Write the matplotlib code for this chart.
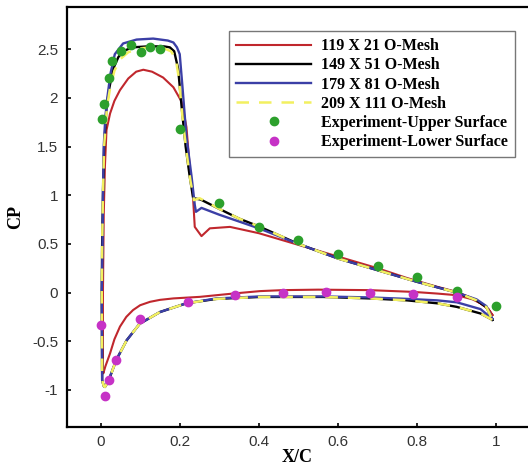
import matplotlib
matplotlib.use("Agg")
import matplotlib.pyplot as plt
import numpy as np

# 119 X 21 O-Mesh
red_up_x = [0.006, 0.006, 0.008, 0.011, 0.015, 0.024, 0.035, 0.049, 0.07, 0.09, 0.108, 0.13, 0.158, 0.184,
            0.205, 0.217, 0.226, 0.233, 0.238, 0.255, 0.276, 0.327, 0.40, 0.50, 0.60, 0.70, 0.774, 0.85,
            0.90, 0.94, 0.96, 0.98, 0.99]
red_up_y = [-0.80, 0.0, 0.8, 1.3, 1.67, 1.84, 1.97, 2.08, 2.20, 2.27, 2.29, 2.27, 2.21, 2.11,
            1.96, 1.70, 1.26, 1.02, 0.675, 0.58, 0.66, 0.675, 0.61, 0.49, 0.37, 0.25, 0.15, 0.06,
            0.007, -0.06, -0.11, -0.17, -0.23]
red_lo_x = [0.006, 0.007, 0.012, 0.024, 0.035, 0.049, 0.065, 0.082, 0.10, 0.125, 0.15, 0.184, 0.251,
            0.335, 0.403, 0.46, 0.55, 0.68, 0.79, 0.85, 0.90, 0.94, 0.96, 0.98, 0.99]
red_lo_y = [-0.80, -0.83, -0.76, -0.625, -0.48, -0.35, -0.25, -0.18, -0.13, -0.095, -0.075, -0.06, -0.044,
            -0.01, 0.015, 0.025, 0.03, 0.025, 0.007, -0.01, -0.027, -0.07, -0.11, -0.17, -0.23]

# 149 X 51 O-Mesh
blk_up_x = [0.004, 0.003, 0.004, 0.006, 0.009, 0.015, 0.022, 0.032, 0.045, 0.057, 0.08, 0.12, 0.16, 0.175,
            0.186, 0.196, 0.205, 0.215, 0.225, 0.234, 0.253, 0.30, 0.35, 0.40, 0.50, 0.60, 0.70, 0.80,
            0.90, 0.95, 0.975, 0.99]
blk_up_y = [-0.90, 0.0, 0.5, 1.0, 1.5, 1.9, 2.1, 2.3, 2.42, 2.48, 2.52, 2.53, 2.53, 2.52,
            2.48, 2.30, 1.90, 1.50, 1.20, 0.97, 0.956, 0.86, 0.76, 0.68, 0.50, 0.35, 0.23, 0.11,
            0.0, -0.08, -0.15, -0.28]
blk_lo_x = [0.004, 0.008, 0.011, 0.017, 0.024, 0.04, 0.066, 0.099, 0.15, 0.217, 0.293, 0.403, 0.563,
            0.68, 0.774, 0.85, 0.90, 0.96, 0.99]
blk_lo_y = [-0.90, -0.96, -0.97, -0.93, -0.865, -0.69, -0.49, -0.32, -0.20, -0.11, -0.065, -0.045, -0.045,
            -0.06, -0.08, -0.11, -0.147, -0.215, -0.28]

# 179 X 81 O-Mesh
blu_up_x = [0.004, 0.003, 0.005, 0.006, 0.008, 0.012, 0.017, 0.025, 0.036, 0.057, 0.091, 0.133, 0.17,
            0.184, 0.193, 0.20, 0.207, 0.217, 0.23, 0.238, 0.241, 0.255, 0.30, 0.35, 0.40, 0.453, 0.50,
            0.60, 0.70, 0.80, 0.90, 0.95, 0.975, 0.99]
blu_up_y = [-0.90, 0.0, 0.5, 1.0, 1.5, 1.8, 2.0, 2.25, 2.45, 2.56, 2.60, 2.61, 2.59,
            2.57, 2.52, 2.45, 2.11, 1.60, 1.19, 0.90, 0.83, 0.87, 0.80, 0.73, 0.66, 0.575, 0.50,
            0.35, 0.23, 0.11, 0.0, -0.07, -0.14, -0.27]
blu_lo_x = [0.004, 0.008, 0.011, 0.017, 0.024, 0.04, 0.066, 0.099, 0.15, 0.217, 0.293, 0.403, 0.563,
            0.68, 0.774, 0.85, 0.90, 0.96, 0.99]
blu_lo_y = [-0.90, -0.96, -0.97, -0.93, -0.86, -0.69, -0.49, -0.32, -0.20, -0.11, -0.06, -0.04, -0.04,
            -0.05, -0.065, -0.08, -0.10, -0.17, -0.27]

# 209 X 111 O-Mesh
yel_up_x = [0.004, 0.003, 0.004, 0.006, 0.009, 0.016, 0.024, 0.035, 0.05, 0.07, 0.10, 0.13, 0.16, 0.178,
            0.19, 0.198, 0.207, 0.217, 0.227, 0.236, 0.25, 0.30, 0.35, 0.40, 0.50, 0.60, 0.70, 0.80,
            0.90, 0.95, 0.975, 0.99]
yel_up_y = [-0.90, 0.0, 0.5, 1.0, 1.5, 1.9, 2.1, 2.28, 2.40, 2.47, 2.51, 2.52, 2.51, 2.48,
            2.40, 2.20, 1.80, 1.45, 1.15, 0.95, 0.97, 0.86, 0.76, 0.68, 0.50, 0.35, 0.23, 0.11,
            0.0, -0.08, -0.15, -0.28]
yel_lo_x = blk_lo_x
yel_lo_y = blk_lo_y

# experiment
exp_up_x = [0.004, 0.009, 0.022, 0.030, 0.051, 0.076, 0.101, 0.125, 0.150, 0.20, 0.30, 0.40, 0.50,
            0.60, 0.70, 0.80, 0.90, 0.999]
exp_up_y = [1.78, 1.94, 2.21, 2.38, 2.48, 2.54, 2.47, 2.52, 2.50, 1.68, 0.92, 0.67, 0.54,
            0.40, 0.27, 0.155, 0.014, -0.14]
exp_lo_x = [0.0, 0.011, 0.021, 0.040, 0.10, 0.22, 0.34, 0.46, 0.57, 0.68, 0.79, 0.90]
exp_lo_y = [-0.335, -1.06, -0.90, -0.69, -0.27, -0.10, -0.02, 0.0, 0.01, 0.0, -0.01, -0.05]


def loop(ux, uy, lx, ly):
    # trailing edge -> leading edge along the lower side, then back along the upper side
    return list(lx[::-1]) + list(ux), list(ly[::-1]) + list(uy)


fig = plt.figure(figsize=(5.28, 4.66), dpi=100)
ax = fig.add_axes([0.126, 0.084, 0.874, 0.9])

x, y = loop(red_up_x, red_up_y, red_lo_x, red_lo_y)
ax.plot(x, y, color='#c0272d', lw=1.5, label='119 X 21 O-Mesh')
x, y = loop(blk_up_x, blk_up_y, blk_lo_x, blk_lo_y)
ax.plot(x, y, color='black', lw=1.7, label='149 X 51 O-Mesh')
x, y = loop(blu_up_x, blu_up_y, blu_lo_x, blu_lo_y)
ax.plot(x, y, color='#3b3fa6', lw=1.7, label='179 X 81 O-Mesh')
x, y = loop(yel_up_x, yel_up_y, yel_lo_x, yel_lo_y)
ax.plot(x, y, color='#f2f060', lw=1.8, ls=(0, (5, 4)), label='209 X 111 O-Mesh')

ax.plot(exp_up_x, exp_up_y, 'o', color='#2ca02c', ms=6, label='Experiment-Upper Surface')
ax.plot(exp_lo_x, exp_lo_y, 'o', color='#c632c6', ms=6, label='Experiment-Lower Surface')

ax.set_xlim(-0.086, 1.08)
ax.set_ylim(-1.38, 2.93)
ax.set_xticks(np.arange(0, 1.01, 0.2))
ax.set_xticklabels(['0', '0.2', '0.4', '0.6', '0.8', '1'])
ax.set_yticks(np.arange(-1, 2.51, 0.5))
ax.set_yticklabels(['-1', '-0.5', '0', '0.5', '1', '1.5', '2', '2.5'])
ax.tick_params(direction='in', length=3, width=1.2, labelsize=11, pad=6)
for lbl in ax.get_xticklabels() + ax.get_yticklabels():
    lbl.set_family('Liberation Sans')
    lbl.set_color('#333333')
for s in ['left', 'bottom', 'top']:
    ax.spines[s].set_linewidth(1.6)
ax.spines['right'].set_visible(False)

ax.set_xlabel('X/C', family='Liberation Serif', weight='bold', fontsize=13, labelpad=0)
ax.set_ylabel('CP', family='Liberation Serif', weight='bold', fontsize=13, labelpad=6)

leg = ax.legend(loc='upper right', bbox_to_anchor=(0.972, 0.944), borderaxespad=0, fancybox=False,
                framealpha=1, edgecolor='#777777', handlelength=4.7, borderpad=0.45, labelspacing=0.2,
                handletextpad=0.6, prop={'family': 'Liberation Serif', 'weight': 'bold', 'size': 11.5})
leg.get_frame().set_linewidth(1.0)

fig.savefig('out.png', dpi=100)
